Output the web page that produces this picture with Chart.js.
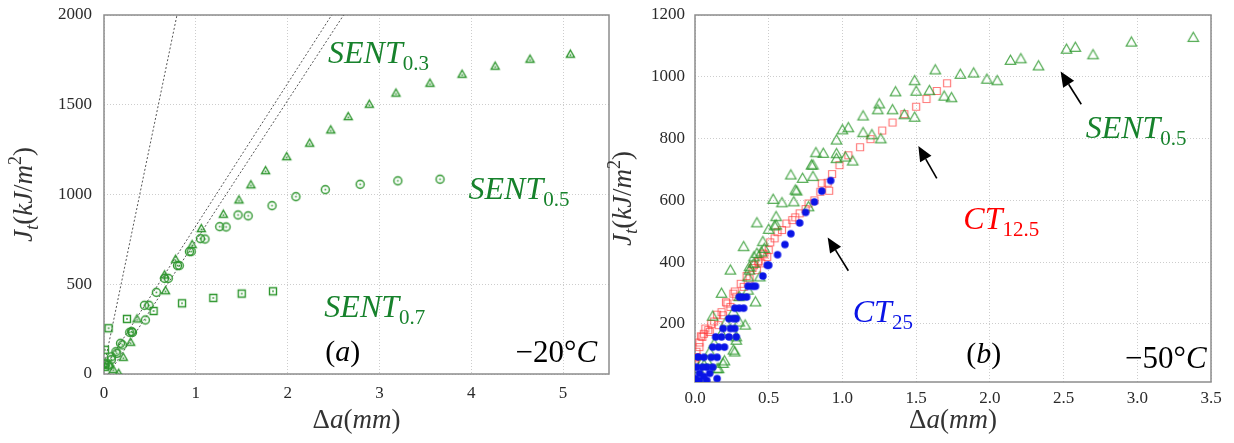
<!DOCTYPE html>
<html>
<head>
<meta charset="utf-8">
<script src="https://cdn.jsdelivr.net/npm/chart.js@4/dist/chart.umd.min.js"></script>
<style>
html, body { margin: 0; padding: 0; background: #fff; }
#wrap { position: relative; width: 1234px; height: 443px; overflow: hidden; }
canvas { position: absolute; top: 0; }
#chartA { left: 0; }
#chartB { left: 595px; }
</style>
</head>
<body>
<div id="wrap">
  <canvas id="chartA" width="617" height="443"></canvas>
  <canvas id="chartB" width="639" height="443"></canvas>
</div>
<script>
// ---- panel (a), -20C : [da (mm), Jt (kJ/m2)]
const sent03a = [[0.06,50],[0.10,26],[0.16,4],[0.21,93],[0.29,177],[0.36,307],[0.67,464],[0.66,552],[0.78,639],[0.96,721],
  [1.06,810],[1.30,890],[1.47,970],[1.60,1054],[1.76,1133],[1.99,1211],[2.24,1286],[2.47,1360],[2.66,1434],
  [2.89,1503],[3.18,1565],[3.55,1620],[3.90,1670],[4.26,1715],[4.64,1754],[5.08,1782]];
const sent05a = [[0.01,54],[0.05,50],[0.01,60],[0.08,96],[0.08,80],[0.13,124],[0.14,115],[0.18,171],[0.20,162],[0.28,232],
  [0.31,232],[0.30,236],[0.45,301],[0.44,383],[0.49,383],[0.57,455],[0.66,533],[0.70,533],[0.80,604],[0.82,604],
  [0.93,682],[0.95,682],[1.05,754],[1.10,752],[1.26,821],[1.33,819],[1.46,886],[1.57,881],[1.83,938],[2.09,988],
  [2.41,1027],[2.79,1057],[3.20,1076],[3.66,1085]];
const sent07a = [[0.01,40],[0.01,135],[0.05,255],[0.25,307],[0.54,351],[0.85,394],[1.19,424],[1.50,448],[1.84,461]];
// dotted blunting lines
const bluntLines = [
  [[0.0,41],[0.795,2000]],
  [[0.0,30],[2.48,2000]],
  [[0.05,0],[2.61,2000]]
];
const xTicksA = [0, 1, 2, 3, 4, 5];
const yTicksA = [0, 500, 1000, 1500, 2000];

// ---- panel (b), -50C
const sent05b = [[3.38,1127],[2.96,1112],[2.70,1071],[2.58,1095],[2.52,1089],[2.33,1035],[2.21,1058],[2.14,1053],
  [2.05,987],[1.98,992],[1.89,1012],[1.80,1008],[1.74,932],[1.69,937],[1.63,1022],[1.59,955],[1.49,987],[1.50,953],
  [1.49,869],[1.42,877],[1.36,951],[1.34,893],[1.25,912],[1.24,893],[1.26,799],[1.20,812],[1.14,873],[1.14,819],
  [1.04,835],[1.00,828],[1.07,727],[1.02,740],[0.96,795],[0.96,751],[0.96,735],[0.87,752],[0.82,754],[0.80,714],
  [0.80,677],[0.73,671],[0.65,682],[0.69,630],[0.67,595],[0.77,579],[0.59,592],[0.53,603],[0.55,547],[0.55,520],
  [0.50,506],[0.42,527],[0.47,444],[0.46,466],[0.33,450],[0.42,428],[0.45,433],[0.40,417],[0.44,352],[0.37,385],
  [0.36,352],[0.40,396],[0.37,374],[0.24,374],[0.36,309],[0.30,288],[0.18,299],[0.41,271],[0.34,196],[0.12,225],
  [0.30,206],[0.26,239],[0.21,206],[0.28,158],[0.28,147],[0.27,109],[0.26,115],[0.18,169],[0.13,136],[0.10,109],
  [0.20,80],[0.19,72],[0.16,55],[0.15,55],[0.08,82],[0.05,77],[0.04,28],[0.02,55],[0.54,517],[0.68,633],[0.79,714]];
const ct125b = [[1.71,979],[1.64,954],[1.57,928],[1.50,903],[1.42,879],[1.34,852],[1.27,826],[1.19,798],[1.12,772],
  [1.04,746],[0.98,714],[0.93,685],[0.90,657],[0.91,631],[0.86,655],[0.85,628],[0.81,600],[0.77,590],[0.75,572],
  [0.71,558],[0.68,545],[0.66,536],[0.62,525],[0.59,504],[0.56,497],[0.54,477],[0.51,464],[0.50,439],[0.46,428],
  [0.43,401],[0.40,390],[0.49,417],[0.45,396],[0.42,374],[0.37,347],[0.33,320],[0.28,288],[0.24,255],[0.19,228],
  [0.16,196],[0.10,174],[0.05,158],[0.03,125],[0.01,93],[0.00,66],[0.47,425],[0.43,404],[0.39,381],[0.35,355],
  [0.31,330],[0.26,298],[0.22,266],[0.18,238],[0.13,208],[0.09,180],[0.06,168],[0.03,140],[0.01,110],[0.00,75],
  [0.27,305],[0.21,270],[0.15,230],[0.11,200],[0.07,185],[0.04,160]];
const ct25b = [[0.92,664],[0.86,630],[0.81,595],[0.75,561],[0.71,527],[0.65,492],[0.61,457],[0.56,424],[0.50,390],
  [0.49,390],[0.46,355],[0.41,322],[0.39,322],[0.36,322],[0.35,287],[0.32,287],[0.30,287],[0.33,251],[0.30,251],
  [0.27,251],[0.28,217],[0.26,217],[0.23,217],[0.27,185],[0.24,185],[0.19,185],[0.28,158],[0.23,158],[0.18,158],
  [0.14,158],[0.20,125],[0.16,125],[0.12,125],[0.15,92],[0.11,92],[0.06,92],[0.08,60],[0.05,60],[0.15,23],[0.02,93],
  [0.00,17],[0.03,17],[0.08,17],[0.03,40],[0.01,60],[0.10,40],[0.06,30],[0.12,60],[0.00,23]];
// arrows: [tail, tip]
const arrowsB = [
  [[1.04,372],[0.90,480]],
  [[1.64,671],[1.515,776]],
  [[2.62,911],[2.48,1017]]
];
const xTicksB = [0, 0.5, 1, 1.5, 2, 2.5, 3, 3.5];
const yTicksB = [200, 400, 600, 800, 1000, 1200];

const SERIF = '"Liberation Serif", "DejaVu Serif", serif';
const GREEN_TXT = '#17822c';

function toXY(arr) { return arr.map(p => ({ x: p[0], y: p[1] })); }

// small canvas images used as point styles
function marker(shape, size, stroke, fill, lw, dot) {
    const s = Math.ceil(size + lw * 2 + 2);
    const c = document.createElement('canvas');
    c.width = c.height = s;
    const g = c.getContext('2d');
    const m = s / 2, r = size / 2;
    g.beginPath();
    if (shape === 'tri') {
        g.moveTo(m, m - r);
        g.lineTo(m + r, m + r * 0.75);
        g.lineTo(m - r, m + r * 0.75);
        g.closePath();
    } else if (shape === 'sq') {
        g.rect(m - r, m - r, size, size);
    } else {
        g.arc(m, m, r, 0, Math.PI * 2);
    }
    if (fill) { g.fillStyle = fill; g.fill(); }
    if (stroke) { g.strokeStyle = stroke; g.lineWidth = lw; g.stroke(); }
    if (dot) {
        g.fillStyle = stroke;
        g.fillRect(m - 0.8, m - 0.8 + (shape === 'tri' ? r * 0.2 : 0), 1.6, 1.6);
    }
    return c;
}

// draw text made of pieces (italic / upright / sub / sup)
function drawRich(ctx, parts, x, y, align, angle, color) {
    ctx.save();
    ctx.translate(x, y);
    if (angle) ctx.rotate(angle);
    let total = 0;
    parts.forEach(p => { ctx.font = p[1] + ' ' + p[2] + 'px ' + SERIF; total += ctx.measureText(p[0]).width; });
    let cx = align === 'center' ? -total / 2 : (align === 'right' ? -total : 0);
    ctx.textBaseline = 'alphabetic';
    ctx.fillStyle = color;
    parts.forEach(p => {
        ctx.font = p[1] + ' ' + p[2] + 'px ' + SERIF;
        ctx.fillText(p[0], cx, p[3] || 0);
        cx += ctx.measureText(p[0]).width;
    });
    ctx.restore();
}

function drawArrow(ctx, x1, y1, x2, y2) {
    const ang = Math.atan2(y2 - y1, x2 - x1);
    const hl = 15, hw = 6.5;
    const bx = x2 - hl * Math.cos(ang), by = y2 - hl * Math.sin(ang);
    ctx.save();
    ctx.strokeStyle = '#000';
    ctx.lineWidth = 1.6;
    ctx.beginPath(); ctx.moveTo(x1, y1); ctx.lineTo(bx, by); ctx.stroke();
    ctx.fillStyle = '#000';
    ctx.beginPath();
    ctx.moveTo(x2, y2);
    ctx.lineTo(bx + hw * Math.sin(ang), by - hw * Math.cos(ang));
    ctx.lineTo(bx - hw * Math.sin(ang), by + hw * Math.cos(ang));
    ctx.closePath(); ctx.fill();
    ctx.restore();
}

const yTitle = [['J','italic',27],['t','italic',19,6],['(','normal',27],['kJ','italic',27],['/','normal',27],['m','italic',27],['2','normal',18,-11],[')','normal',27]];
const xTitle = [['\u0394','normal',27],['a','italic',27],['(','normal',27],['mm','italic',27],[')','normal',27]];

function scaleCfg(min, max, ticks, fmt, pad, size, isY) {
    return {
        type: 'linear', min: min, max: max,
        afterBuildTicks: s => { s.ticks = ticks.map(v => ({ value: v })); },
        afterFit: s => {
            if (isY) s.width = size; else s.height = size;
            // fixed plot box: no extra room for overhanging labels
            s.paddingTop = 0; s.paddingBottom = 0; s.paddingLeft = 0; s.paddingRight = 0;
        },
        grid: { color: '#cdcdcd', lineWidth: 1, drawTicks: false },
        border: { display: false, dash: [1, 2] },
        ticks: { padding: pad, color: '#2a2a2a', font: { family: SERIF, size: 17 }, callback: fmt, maxRotation: 0, autoSkip: false }
    };
}

function decoPlugin(opts) {
    return {
        id: 'deco',
        beforeDatasetsDraw(chart) {
            const a = chart.chartArea, ctx = chart.ctx;
            ctx.save();
            ctx.strokeStyle = '#8c8c8c';
            ctx.lineWidth = 1.5;
            ctx.strokeRect(a.left, a.top, a.right - a.left, a.bottom - a.top);
            ctx.restore();
        },
        afterDraw(chart) {
            const ctx = chart.ctx, xs = chart.scales.x, ys = chart.scales.y, a = chart.chartArea;
            drawRich(ctx, yTitle, opts.yTitleX, (a.top + a.bottom) / 2, 'center', -Math.PI / 2, '#333');
            drawRich(ctx, xTitle, (a.left + a.right) / 2, 428, 'center', 0, '#333');
            opts.labels.forEach(l => {
                drawRich(ctx, l.parts, xs.getPixelForValue(l.x), ys.getPixelForValue(l.y), l.align || 'left', 0, l.color);
            });
            (opts.arrows || []).forEach(ar => {
                drawArrow(ctx, xs.getPixelForValue(ar[0][0]), ys.getPixelForValue(ar[0][1]),
                    xs.getPixelForValue(ar[1][0]), ys.getPixelForValue(ar[1][1]));
            });
        }
    };
}

const greenA = '#2f962f';
const triA = marker('tri', 8, greenA, null, 1.4, true);
const cirA = marker('cir', 8, greenA, null, 1.4, true);
const sqA = marker('sq', 7, greenA, null, 1.4, true);
const triB = marker('tri', 10.5, 'rgba(40,150,40,0.8)', null, 1.2, false);
const sqB = marker('sq', 7, 'rgba(255,50,50,0.65)', null, 1.2, false);
const cirB = marker('cir', 7.5, null, '#0a14e6', 0, false);

function pts(data, style, order) {
    return { type: 'scatter', data: toXY(data), pointStyle: style, pointRadius: 3, showLine: false, order: order };
}

new Chart(document.getElementById('chartA'), {
    type: 'scatter',
    data: {
        datasets: bluntLines.map(l => ({
            type: 'line', data: toXY(l), showLine: true, pointRadius: 0, borderColor: '#555',
            borderWidth: 1, borderDash: [2, 2], fill: false, order: 5
        })).concat([
            pts(sent05a, cirA, 2),
            pts(sent07a, sqA, 1),
            pts(sent03a, triA, 0)
        ])
    },
    options: {
        responsive: false, animation: false, devicePixelRatio: 1,
        layout: { padding: { top: 15, right: 8, left: 0, bottom: 0 } },
        plugins: { legend: { display: false }, tooltip: { enabled: false } },
        scales: {
            x: scaleCfg(0, 5.5, xTicksA, v => v, 9, 69, false),
            y: scaleCfg(0, 2000, yTicksA, v => v, 12, 104, true)
        }
    },
    plugins: [decoPlugin({
        yTitleX: 32,
        labels: [
            { x: 2.44, y: 1734, parts: [['SENT','italic',32],['0.3','normal',21,7]], color: GREEN_TXT },
            { x: 3.97, y: 975, parts: [['SENT','italic',32],['0.5','normal',21,7]], color: GREEN_TXT },
            { x: 2.40, y: 318, parts: [['SENT','italic',32],['0.7','normal',21,7]], color: GREEN_TXT },
            { x: 2.41, y: 72, parts: [['(','normal',30],['a','italic',30],[')','normal',30]], color: '#000' },
            { x: 5.37, y: 69, align: 'right', parts: [['\u221220\u00b0','normal',31],['C','italic',31]], color: '#000' }
        ]
    })]
});

new Chart(document.getElementById('chartB'), {
    type: 'scatter',
    data: {
        datasets: [
            pts(ct125b, sqB, 2),
            pts(sent05b, triB, 1),
            pts(ct25b, cirB, 0)
        ]
    },
    options: {
        responsive: false, animation: false, devicePixelRatio: 1,
        layout: { padding: { top: 15, right: 23, left: 0, bottom: 0 } },
        plugins: { legend: { display: false }, tooltip: { enabled: false } },
        scales: {
            x: scaleCfg(0, 3.5, xTicksB, v => v.toFixed(1), 6, 61, false),
            y: scaleCfg(12, 1200, yTicksB, v => v, 10, 100, true)
        }
    },
    plugins: [decoPlugin({
        yTitleX: 36,
        arrows: arrowsB,
        labels: [
            { x: 2.65, y: 802, parts: [['SENT','italic',32],['0.5','normal',21,7]], color: GREEN_TXT },
            { x: 1.82, y: 507, parts: [['CT','italic',32],['12.5','normal',21,7]], color: '#ff0000' },
            { x: 1.07, y: 206, parts: [['CT','italic',32],['25','normal',21,7]], color: '#0a14e6' },
            { x: 1.84, y: 73, parts: [['(','normal',30],['b','italic',30],[')','normal',30]], color: '#000' },
            { x: 3.47, y: 56, align: 'right', parts: [['\u221250\u00b0','normal',31],['C','italic',31]], color: '#000' }
        ]
    })]
});
</script>
</body>
</html>
